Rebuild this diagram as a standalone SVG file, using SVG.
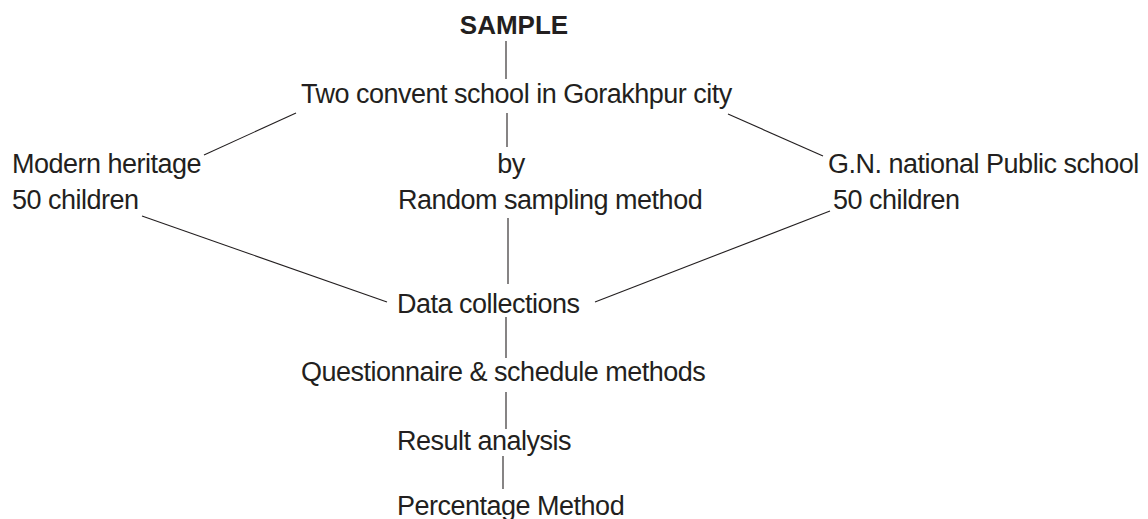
<svg xmlns="http://www.w3.org/2000/svg" width="1148" height="519" viewBox="0 0 1148 519">
<style>
text{font-family:"Liberation Sans",Arial,sans-serif;font-size:27px;letter-spacing:-0.5px;fill:#231f20}
.b{font-weight:bold;font-size:26px;letter-spacing:0}
.c line{stroke:#231f20;stroke-width:1.1}
</style>
<rect width="1148" height="519" fill="#fff"/>
<g class="c" id="connectors">
<line x1="506" y1="41" x2="506" y2="79"/>
<line x1="507" y1="113" x2="507" y2="147"/>
<line x1="296" y1="113" x2="204" y2="155"/>
<line x1="728" y1="114" x2="823" y2="156"/>
<line x1="142" y1="216" x2="387" y2="302"/>
<line x1="830" y1="211" x2="595" y2="302"/>
<line x1="508" y1="218" x2="508" y2="284"/>
<line x1="506" y1="317" x2="506" y2="358"/>
<line x1="506" y1="392" x2="506" y2="429"/>
<line x1="503" y1="456" x2="503" y2="489"/>
</g>
<g id="sample"><text class="b" x="514" y="34" text-anchor="middle">SAMPLE</text></g>
<g id="two"><text x="301" y="103">Two convent school in Gorakhpur city</text></g>
<g id="modern"><text x="12" y="173">Modern heritage</text><text x="12" y="209">50 children</text></g>
<g id="random"><text x="511" y="173" text-anchor="middle">by</text><text x="398" y="209">Random sampling method</text></g>
<g id="gn"><text x="828" y="173">G.N. national Public school</text><text x="833" y="209">50 children</text></g>
<g id="data"><text x="397" y="313">Data collections</text></g>
<g id="quest"><text x="301" y="381">Questionnaire &amp; schedule methods</text></g>
<g id="result"><text x="397" y="450">Result analysis</text></g>
<g id="percent"><text x="397" y="515">Percentage Method</text></g>
</svg>
